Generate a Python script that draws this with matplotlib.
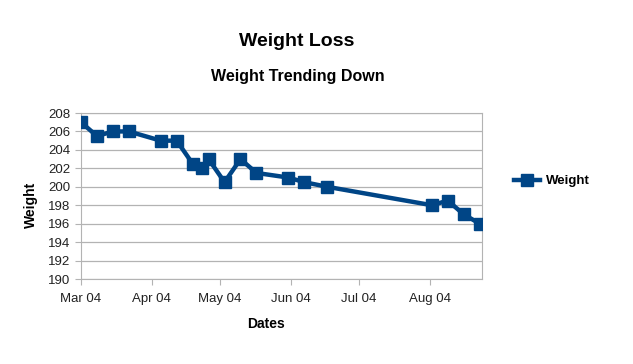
import datetime as dt
import matplotlib
matplotlib.use("Agg")
import matplotlib.pyplot as plt
import matplotlib.dates as mdates

plt.rcParams['font.family'] = ['Liberation Sans', 'DejaVu Sans']

start = dt.date(2004, 3, 1)
day_offsets = [0, 7, 14, 21, 35, 42, 49, 53, 56, 63, 70, 77, 91, 98, 108, 154, 161, 168, 175]
weights = [207, 205.5, 206, 206, 205, 205, 202.5, 202, 203, 200.5, 203, 201.5,
           201, 200.5, 200, 198, 198.5, 197, 196]
dates = [start + dt.timedelta(days=d) for d in day_offsets]

col = '#004586'
W, H = 633, 364
fig = plt.figure(figsize=(W / 100, H / 100), dpi=100)
ax = fig.add_axes([81 / W, 1 - 279 / H, (482 - 81) / W, (279 - 113) / H])

ax.plot(dates, weights, color=col, lw=3.2, marker='s', ms=8.5, label='Weight', zorder=3)

ax.set_xlim(start, start + dt.timedelta(days=176))
ax.set_ylim(190, 208)
ax.set_yticks(range(190, 209, 2))
ax.xaxis.set_major_locator(mdates.MonthLocator())
ax.xaxis.set_major_formatter(mdates.DateFormatter('%b 04'))

ax.grid(axis='y', color='#b3b3b3', lw=0.9)
for s in ax.spines.values():
    s.set_color('#b3b3b3')
ax.tick_params(colors='#b3b3b3', labelcolor='#222222', labelsize=9.5, length=4)
ax.tick_params(axis='x', pad=6)

ax.set_xlabel('Dates', fontsize=10, fontweight='bold')
ax.set_ylabel('Weight', fontsize=10, fontweight='bold')
ax.xaxis.set_label_coords((266 - 81) / 401, (279 - 317) / 166)
ax.yaxis.set_label_coords((38 - 81) / 401, (279 - 205) / 166)

fig.text(297 / W, 1 - 41 / H, 'Weight Loss', ha='center', va='center',
         fontsize=14, fontweight='bold')
fig.text(298 / W, 1 - 76 / H, 'Weight Trending Down', ha='center', va='center',
         fontsize=11.5, fontweight='bold')

leg = fig.legend(loc='center left', bbox_to_anchor=(502 / W, 1 - 181 / H),
                 frameon=False, prop={'weight': 'bold', 'size': 9.5},
                 handlelength=2.0, handletextpad=0.4)

fig.savefig('out.png', dpi=100)
